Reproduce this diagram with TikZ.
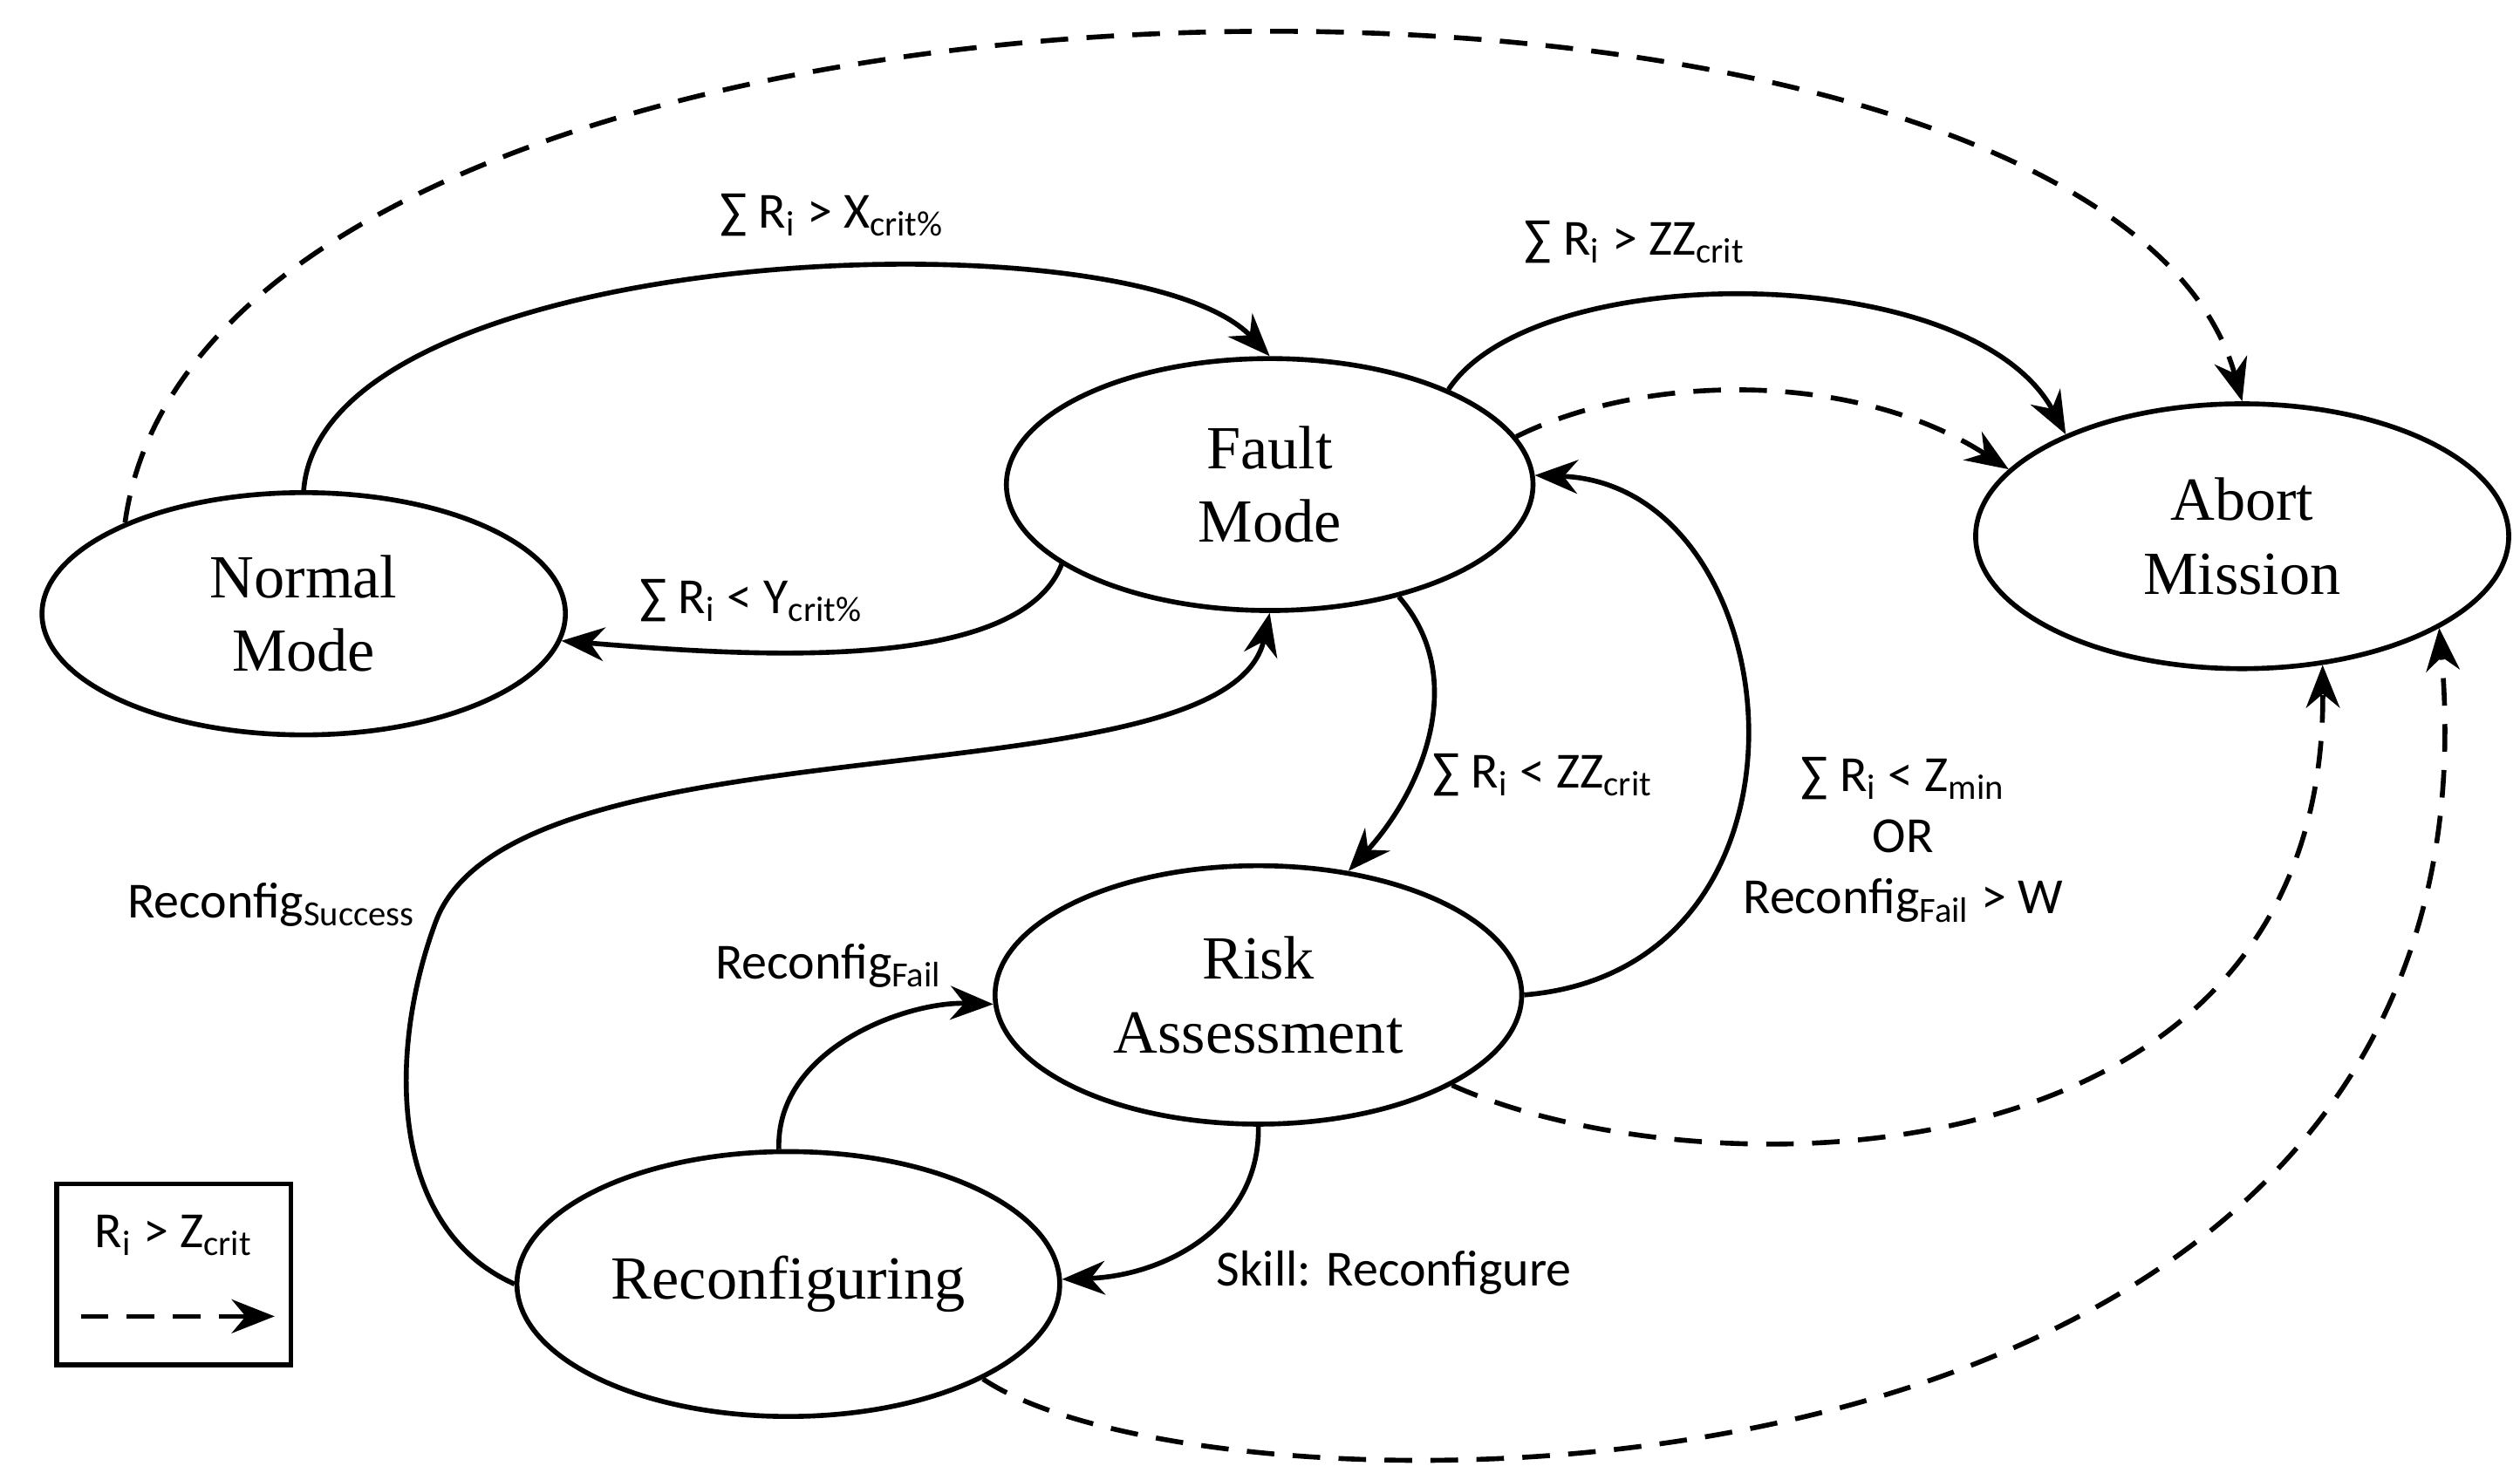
\documentclass[tikz,border=0pt]{standalone}
\usepackage{fontspec}
\setmainfont{Liberation Serif}
\newfontfamily\lab{Carlito}
\usetikzlibrary{shapes.geometric,arrows.meta}
\begin{document}
\begin{tikzpicture}[x=0.01852cm,y=-0.01852cm,
 st/.style={draw,line width=1.6pt,ellipse,font=\fontsize{20}{24}\selectfont,align=center,inner sep=0pt},
 ed/.style={line width=1.6pt,-{Stealth[length=14pt,width=11pt]}},
 da/.style={ed,dash pattern=on 9pt off 6pt},
 lb/.style={font=\lab\fontsize{16.5}{20}\selectfont,align=center}]
\useasboundingbox (0,0) rectangle (1560,912);
\node[st,minimum width=324*0.01852cm,minimum height=150*0.01852cm] (n) at (188,380) {Normal\\Mode};
\node[st,minimum width=326*0.01852cm,minimum height=156*0.01852cm] (f) at (786,300) {Fault\\Mode};
\node[st,minimum width=330*0.01852cm,minimum height=164*0.01852cm] (a) at (1388,332) {Abort\\Mission};
\node[st,minimum width=326*0.01852cm,minimum height=160*0.01852cm] (r) at (779,616) {Risk\\Assessment};
\node[st,minimum width=336*0.01852cm,minimum height=164*0.01852cm] (c) at (488,795) {Reconfiguring};
\node[draw,line width=1.6pt,minimum width=145*0.01852cm,minimum height=112*0.01852cm] (lg) at (107.5,789) {};
\node[lb] (lgt) at (107.5,765) {R\textsubscript{i} > Z\textsubscript{crit}};
\coordinate (l1) at (50,815); \coordinate (l2) at (170,815);
\draw[da] (l1) -- (l2);

\draw[ed] (n.90) .. controls (200,150) and (700,130) .. (f.90);
\node[lb] at (515,133) {∑ R\textsubscript{i} > X\textsubscript{crit\%}};
\draw[ed] (f.201) .. controls (630,420) and (450,405) .. (n.-6);
\node[lb] at (465,372) {∑ R\textsubscript{i} < Y\textsubscript{crit\%}};
\draw[ed] (f.28) .. controls (950,160) and (1220,160) .. (a.150);
\node[lb] at (1012,150) {∑ R\textsubscript{i} > ZZ\textsubscript{crit}};
\draw[da] (f.11) .. controls (1020,230) and (1150,230) .. (a.164);
\draw[da] (n.153) .. controls (130,-60) and (1300,-70) .. (a.90);
\draw[ed] (f.-41) .. controls (910,420) and (880,490) .. (r.54);
\node[lb] at (955,480) {∑ R\textsubscript{i} < ZZ\textsubscript{crit}};
\draw[ed] (r.0) .. controls (1140,600) and (1110,300) .. (f.2);
\node[lb] at (1178,520) {∑ R\textsubscript{i} < Z\textsubscript{min}\\OR\\Reconfig\textsubscript{Fail} > W};
\draw[ed] (c.180) .. controls (240,760) and (240,650) .. (270,570) .. controls (320,440) and (760,500) .. (f.-90);
\node[lb] at (168,560) {Reconfig\textsubscript{Success}};
\draw[ed] (c.94) .. controls (480,650) and (560,620) .. (r.182);
\node[lb] at (513,598) {Reconfig\textsubscript{Fail}};
\draw[ed] (r.-90) .. controls (780,760) and (720,790) .. (c.1);
\node[lb] at (863,788) {Skill: Reconfigure};
\draw[da] (r.-25) .. controls (1050,740) and (1440,740) .. (a.-58);
\draw[da] (c.-26) .. controls (750,950) and (1560,960) .. (a.-25);
\end{tikzpicture}
\end{document}
